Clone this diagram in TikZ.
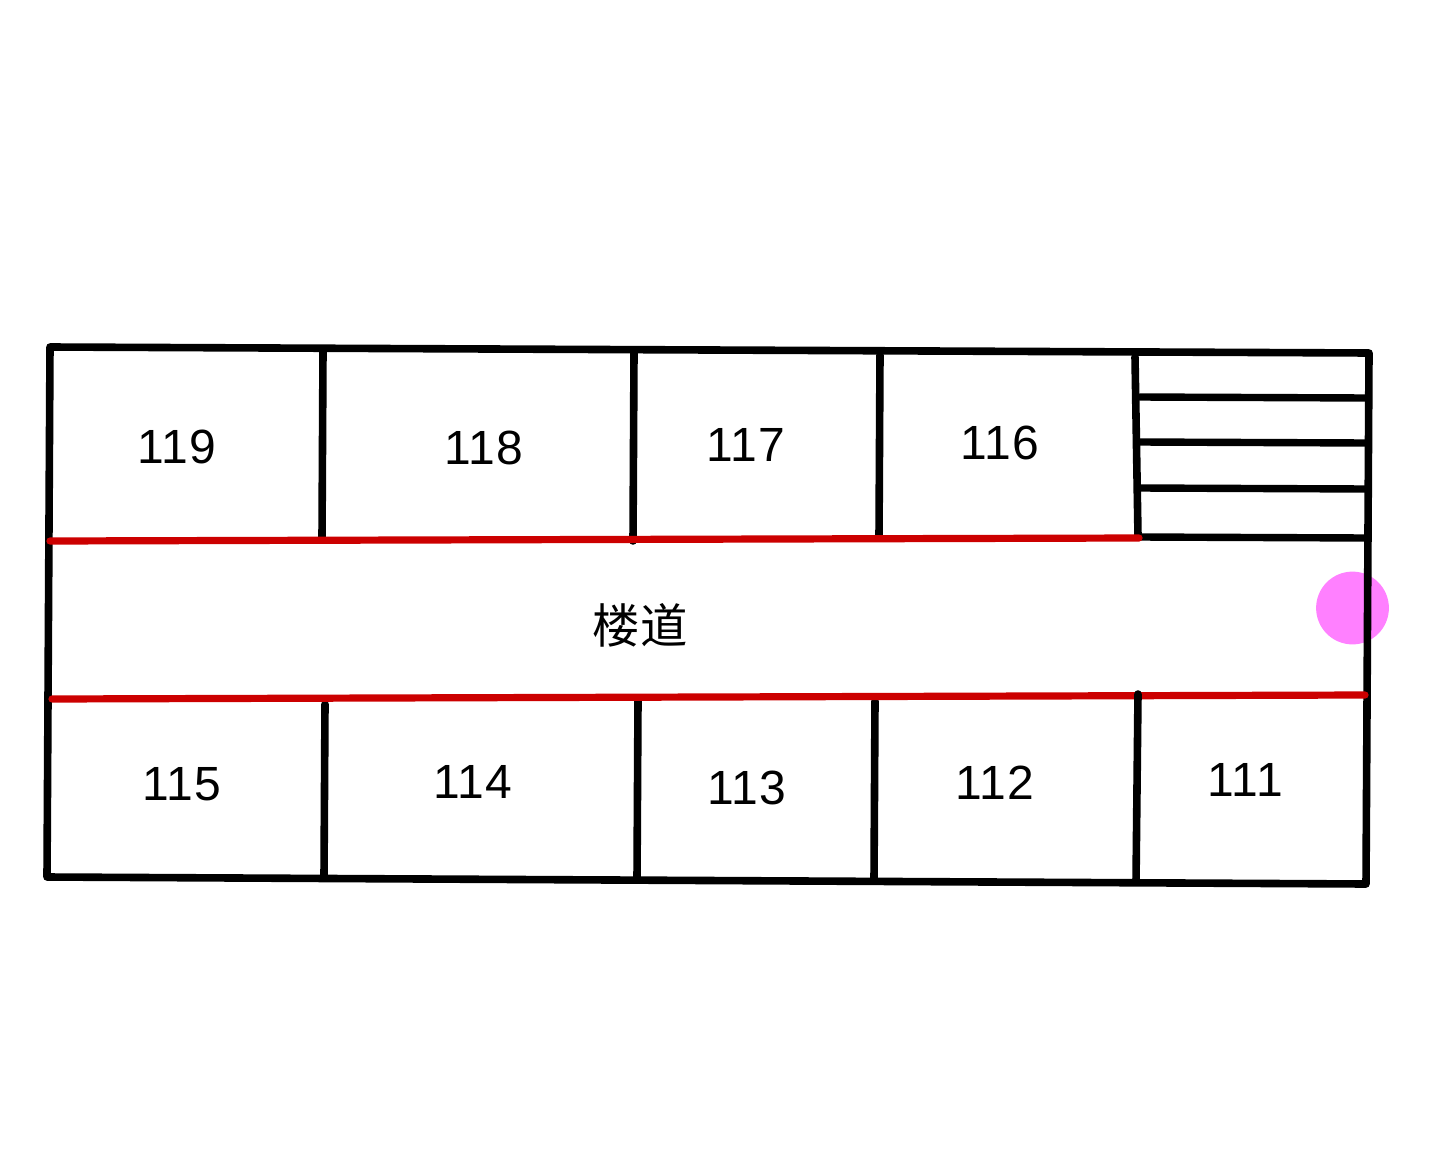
\documentclass[tikz,border=0pt]{standalone}
\usepackage{fontspec}
\setmainfont[LetterSpace=2.5]{Liberation Sans}
\newfontfamily\cjk{Noto Sans CJK SC}
\usepackage{xcolor}
\definecolor{wallred}{HTML}{CC0000}
\definecolor{dotpink}{HTML}{FF80FF}
\tikzset{
  vwall/.style={line width=3.8pt,draw=black,line cap=round,line join=round},
  vstep/.style={line width=3.7pt,draw=black,line cap=round},
  vred/.style={line width=3.6pt,draw=wallred,line cap=round},
  vroom/.style={font=\fontsize{24}{24}\selectfont,inner sep=0pt},
  vdot/.style={circle,fill=dotpink,minimum size=36.4pt,inner sep=0pt}
}
\begin{document}
\begin{tikzpicture}[x=0.5pt,y=-0.5pt]
  \useasboundingbox (0,0) rectangle (1451,1161);
  \node[vdot] (lamp) at (1352.5,608) {};
  % outline
  \draw[vwall] (50,347) -- (1369,353) -- (1366,884) -- (47,877) -- cycle;
  % upper rooms
  \draw[vwall] (323,351) -- (322,538);
  \draw[vwall] (634,353) -- (633,541);
  \draw[vwall] (880,355) -- (879,537);
  \draw[vwall] (1135,357) -- (1138,536);
  % stairs
  \draw[vstep] (1140,397) -- (1366,398);
  \draw[vstep] (1140,442) -- (1366,443);
  \draw[vstep] (1140,488) -- (1366,489);
  \draw[vstep] (1140,537) -- (1366,538);
  % lower rooms
  \draw[vwall] (325,704) -- (324,877);
  \draw[vwall] (638,701) -- (637,879);
  \draw[vwall] (875,701) -- (874,880);
  % corridor
  \draw[vred] (50,541) -- (1139,538);
  \draw[vred] (52,699) -- (1365,695);
  \draw[vwall] (1138,694) -- (1136,882);
  % labels
  \node[vroom] (r119) at (177,447) {119};
  \node[vroom] (r118) at (484,448) {118};
  \node[vroom] (r117) at (746,445) {117};
  \node[vroom] (r116) at (1000,443) {116};
  \node[vroom] (r115) at (182,784) {115};
  \node[vroom] (r114) at (473,782) {114};
  \node[vroom] (r113) at (747,788) {113};
  \node[vroom] (r112) at (995,783) {112};
  \node[vroom] (r111) at (1245,780) {111};
  \node[vroom,font=\fontsize{23.7}{24}\cjk] (hall) at (640,625) {楼道};
\end{tikzpicture}
\end{document}
